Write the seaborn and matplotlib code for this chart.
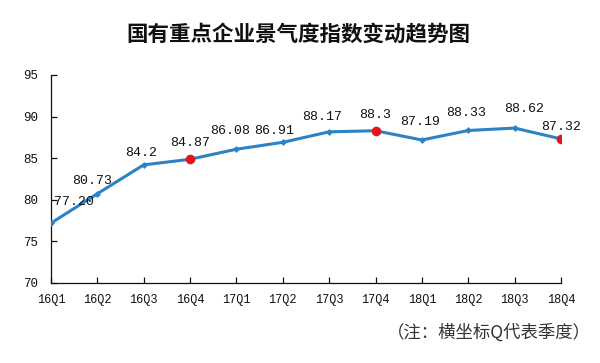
import matplotlib
matplotlib.use("Agg")
import matplotlib.pyplot as plt
import seaborn as sns
import pandas as pd

quarters = ["16Q1", "16Q2", "16Q3", "16Q4", "17Q1", "17Q2",
            "17Q3", "17Q4", "18Q1", "18Q2", "18Q3", "18Q4"]
values = [77.20, 80.73, 84.2, 84.87, 86.08, 86.91,
          88.17, 88.3, 87.19, 88.33, 88.62, 87.32]
value_labels = ["77.20", "80.73", "84.2", "84.87", "86.08", "86.91",
                "88.17", "88.3", "87.19", "88.33", "88.62", "87.32"]
highlight = ["16Q4", "17Q4", "18Q4"]
y_ticks = [70, 75, 80, 85, 90, 95]
title = "国有重点企业景气度指数变动趋势图"
note = "（注：横坐标Q代表季度）"

sns.set_style("ticks")
plt.rcParams["font.family"] = ["Noto Sans CJK SC", "DejaVu Sans"]

mono = ["Liberation Mono", "DejaVu Sans Mono"]
blue = "#2B83C6"
red = "#E8141B"

df = pd.DataFrame({"pos": range(len(quarters)), "quarter": quarters, "value": values})
hl = df[df["quarter"].isin(highlight)]

fig = plt.figure(figsize=(6.0, 3.63), dpi=100)
ax = fig.add_axes([0.085, 0.2204, 0.85, 0.573])

sns.lineplot(data=df, x="pos", y="value", ax=ax, color=blue, linewidth=2.2,
             marker="D", markersize=3.5, markeredgewidth=0, sort=False, zorder=3)
sns.scatterplot(data=hl, x="pos", y="value", ax=ax, color=red, s=48,
                edgecolor=red, linewidth=0, zorder=4)

# per-point label offsets (pixels)
offsets = [(23, 21), (-5, 13), (-3, 12), (0, 16), (-6, 18), (-9, 11),
           (-7, 15), (0, 16), (-2, 18), (-2, 17), (9, 19), (0, 12)]
for i, (lab, v) in enumerate(zip(value_labels, values)):
    dx, dy = offsets[i]
    ax.annotate(lab, (i, v), xytext=(dx, dy), textcoords="offset pixels",
                ha="center", va="center", fontsize=9.5, family=mono, color="#111111")

ax.set_xlim(0, len(quarters) - 1)
ax.set_ylim(70, 95)
ax.set_xticks(range(len(quarters)))
ax.set_xticklabels(quarters, family=mono, fontsize=8.6)
ax.set_yticks(y_ticks)
ax.set_yticklabels([str(t) for t in y_ticks], family=mono, fontsize=9)
ax.set_xlabel("")
ax.set_ylabel("")
ax.tick_params(axis="both", direction="in", length=4, width=0.9, colors="#111111")
ax.tick_params(axis="x", pad=8)
ax.tick_params(axis="y", pad=9)
sns.despine(ax=ax)
for s in ["left", "bottom"]:
    ax.spines[s].set_linewidth(0.9)
    ax.spines[s].set_color("#111111")

fig.text(0.497, 0.905, title, ha="center", va="center", fontsize=15.5,
         fontweight="bold", color="#111111")
fig.text(0.985, 0.085, note, ha="right", va="center", fontsize=12.5, color="#333333")

fig.savefig("out.png", dpi=100)
